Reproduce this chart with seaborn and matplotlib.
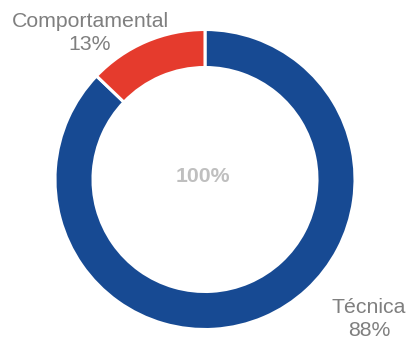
import matplotlib
matplotlib.use("Agg")
import matplotlib.pyplot as plt
import seaborn as sns

# Competency breakdown
categories = ["Técnica", "Comportamental"]
values = [88, 13]
colors = ["#174A93", "#E53B2D"]
total_label = "100%"

sns.set_theme(style="white")
plt.rcParams["font.family"] = ["Liberation Sans", "DejaVu Sans"]

W, H = 409, 340
fig = plt.figure(figsize=(W / 100, H / 100), dpi=100)
ax = fig.add_axes([0, 0, 1, 1])

cx, cy, r = 205, H - 179.5, 150
ax.pie(values, colors=colors, startangle=90, counterclock=False,
       center=(cx, cy), radius=r, frame=True,
       wedgeprops=dict(width=38, edgecolor="white", linewidth=2.2))
ax.set_xlim(0, W)
ax.set_ylim(0, H)
ax.set_axis_off()

gray = "#7F7F7F"
fs = 15.3
label_pos = {"Comportamental": (90, H - 33), "Técnica": (369, H - 319)}
for cat, val in zip(categories, values):
    x, y = label_pos[cat]
    ax.text(x, y, f"{cat}\n{val}%", ha="center", va="center", color=gray,
            fontsize=fs, linespacing=1.25)

ax.text(cx - 2, cy + 3, total_label, ha="center", va="center",
        color="#BFBFBF", fontsize=fs, fontweight="bold")

fig.savefig("out.png", dpi=100)
